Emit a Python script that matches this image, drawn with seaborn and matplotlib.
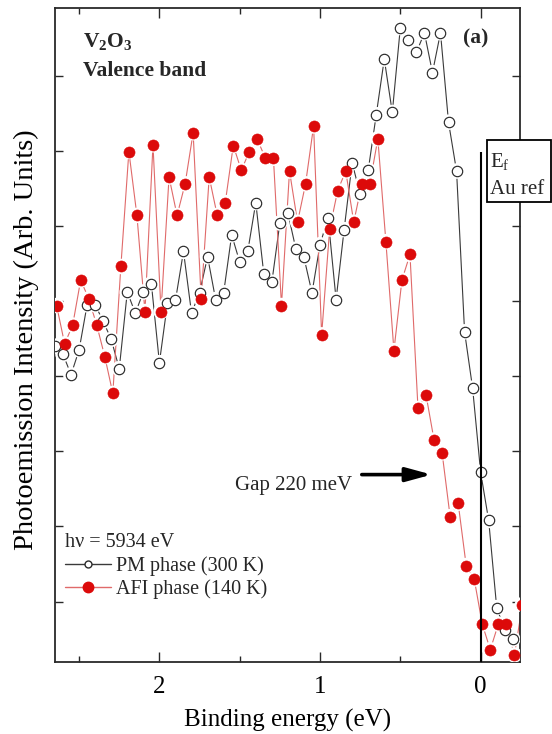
import numpy as np
import pandas as pd
import seaborn as sns
import matplotlib.pyplot as plt
from matplotlib.lines import Line2D
from matplotlib.patches import Rectangle

# Valence-band photoemission of V2O3 (hv = 5934 eV)
pm_energy = [2.65, 2.60, 2.55, 2.50, 2.45, 2.40, 2.35, 2.30, 2.25, 2.20, 2.15, 2.10,
             2.05, 2.00, 1.95, 1.90, 1.85, 1.80, 1.75, 1.70, 1.65, 1.60, 1.55,
             1.50, 1.45, 1.40, 1.35, 1.30, 1.25, 1.20, 1.15, 1.10, 1.05, 1.00,
             0.95, 0.90, 0.85, 0.80, 0.75, 0.70, 0.65, 0.60, 0.55, 0.50, 0.45,
             0.40, 0.35, 0.30, 0.25, 0.20, 0.15, 0.10, 0.05, 0.00, -0.05, -0.10,
             -0.15, -0.20]
pm_intensity = [3.40, 3.29, 3.02, 3.35, 3.95, 3.95, 3.73, 3.49, 3.10, 4.12, 3.84, 4.12,
                4.23, 3.18, 3.97, 4.01, 4.66, 3.84, 4.11, 4.59, 4.02, 4.11, 4.88,
                4.52, 4.66, 5.31, 4.36, 4.25, 5.04, 5.17, 4.69, 4.58, 4.11, 4.75,
                5.11, 4.02, 4.95, 5.84, 5.42, 5.74, 6.48, 7.22, 6.51, 7.64, 7.47,
                7.31, 7.57, 7.04, 7.57, 6.38, 5.73, 3.59, 2.84, 1.72, 1.08, -0.08,
                -0.38, -0.50]

afi_energy = [2.64, 2.59, 2.54, 2.49, 2.44, 2.39, 2.34, 2.29, 2.24, 2.19, 2.14, 2.09,
              2.04, 1.99, 1.94, 1.89, 1.84, 1.79, 1.74, 1.69, 1.64, 1.59, 1.54,
              1.49, 1.44, 1.39, 1.34, 1.29, 1.24, 1.19, 1.14, 1.09, 1.04, 0.99,
              0.94, 0.89, 0.84, 0.79, 0.74, 0.69, 0.64, 0.59, 0.54, 0.49, 0.44,
              0.39, 0.34, 0.29, 0.24, 0.19, 0.14, 0.09, 0.04, -0.01, -0.06, -0.11,
              -0.16, -0.21, -0.26]
afi_intensity = [3.94, 3.43, 3.68, 4.28, 4.03, 3.68, 3.26, 2.77, 4.46, 5.99, 5.14, 3.86,
                 6.08, 3.86, 5.65, 5.14, 5.56, 6.24, 4.03, 5.65, 5.14, 5.31, 6.07,
                 5.74, 5.99, 6.15, 5.90, 5.90, 3.94, 5.73, 5.05, 5.56, 6.33, 3.55,
                 4.96, 5.47, 5.73, 5.05, 5.56, 5.56, 6.16, 4.79, 3.34, 4.28, 4.62,
                 2.57, 2.75, 2.15, 1.98, 1.13, 1.31, 0.48, 0.30, -0.30, -0.64, -0.30,
                 -0.30, -0.71, -0.04]

x_major = [2, 1, 0]
x_minor = [2.5, 1.5, 0.5]
y_ticks = [0, 1, 2, 3, 4, 5, 6, 7]

pm = pd.DataFrame({"energy": pm_energy, "intensity": pm_intensity})
afi = pd.DataFrame({"energy": afi_energy, "intensity": afi_intensity})

sns.set_theme(style="ticks")
plt.rcParams["font.family"] = ["Liberation Serif", "DejaVu Serif"]
plt.rcParams["mathtext.fontset"] = "custom"
plt.rcParams["mathtext.rm"] = "Liberation Serif"
plt.rcParams["mathtext.bf"] = "Liberation Serif:bold"
plt.rcParams["mathtext.it"] = "Liberation Serif:italic"

RED = "#dc0a0a"
RED_LINE = "#e06a6a"
DARK = "#2a2a2a"

fig = plt.figure(figsize=(5.52, 7.34), dpi=100)
ax = fig.add_axes([55 / 552, 1 - 661.7 / 734, 465 / 552, 653.7 / 734])

# connecting lines
sns.lineplot(data=pm, x="energy", y="intensity", sort=False, estimator=None,
             color="#3a3a3a", lw=0.8, ax=ax, zorder=2)
sns.lineplot(data=afi, x="energy", y="intensity", sort=False, estimator=None,
             color=RED_LINE, lw=0.8, ax=ax, zorder=2)

# white halos so the lines stop short of the symbols
for df in (pm, afi):
    sns.scatterplot(data=df, x="energy", y="intensity", s=125, color="white",
                    edgecolor="none", linewidth=0, ax=ax, zorder=3, legend=False)

sns.scatterplot(data=pm, x="energy", y="intensity", s=56, color="white",
                edgecolor=DARK, linewidth=0.85, ax=ax, zorder=4, legend=False)
sns.scatterplot(data=afi, x="energy", y="intensity", s=64, color=RED,
                edgecolor=RED, linewidth=0.4, ax=ax, zorder=5, legend=False)

ax.set_xlim(2.65, -0.245)
ax.set_ylim(-0.8, 7.9)

ax.set_xticks(x_major)
ax.set_xticklabels([str(v) for v in x_major])
ax.set_xticks(x_minor, minor=True)
ax.set_yticks(y_ticks)
ax.set_yticklabels([])

ax.tick_params(axis="x", which="major", direction="in", length=7, width=1.0,
               top=True, bottom=True, labelsize=18, pad=10, colors=DARK)
ax.tick_params(axis="x", which="minor", direction="in", length=4, width=1.0,
               top=True, bottom=True)
ax.tick_params(axis="y", which="major", direction="in", length=5.5, width=1.0,
               left=True, right=True, colors=DARK)
ax.tick_params(axis="x", labelcolor="black")

for sp in ax.spines.values():
    sp.set_linewidth(1.3)
    sp.set_color(DARK)
    sp.set_visible(True)

ax.set_xlabel("Binding energy (eV)", fontsize=18, labelpad=8, color="black")
ax.set_ylabel("Photoemission Intensity (Arb. Units)", fontsize=20.5, color="black")
ax.yaxis.set_label_coords(-0.034, 0.492)

# Fermi level of the Au reference
ax.vlines(0, -0.8, 5.99, color="black", lw=1.5, zorder=6)

# headings
ax.text(0.060, 0.941, r"V$_\mathbf{2}$O$_\mathbf{3}$", transform=ax.transAxes,
        fontsize=15.5, fontweight="bold", va="baseline", ha="left")
ax.text(0.060, 0.896, "Valence band", transform=ax.transAxes,
        fontsize=15.5, fontweight="bold", va="baseline", ha="left")
ax.text(0.877, 0.946, "(a)", transform=ax.transAxes,
        fontsize=15.5, fontweight="bold", va="baseline", ha="left")

# gap annotation
ax.text(0.387, 0.263, "Gap 220 meV", transform=ax.transAxes,
        fontsize=15, va="baseline", ha="left")
ax.annotate("", xy=(0.305, 1.69), xytext=(0.74, 1.69),
            arrowprops=dict(arrowstyle="-|>,head_length=1.1,head_width=0.3",
                            lw=2.6, color="black", mutation_scale=14,
                            shrinkA=0, shrinkB=0))

# E_f / Au ref box, straddling the right spine
fig.add_artist(Rectangle((486.5 / 552, 1 - 201.7 / 734), 64 / 552, 62 / 734,
                         transform=fig.transFigure, facecolor="white",
                         edgecolor="black", lw=1.3, zorder=5))
fig.text(490 / 552, 1 - 166.5 / 734, r"E$_\mathrm{f}$", fontsize=15,
         va="baseline", ha="left", zorder=6)
fig.text(489.5 / 552, 1 - 193.5 / 734, "Au ref", fontsize=15,
         va="baseline", ha="left", zorder=6)

# legend
handles = [
    Line2D([], [], color="#3a3a3a", lw=1.0, marker="o", markersize=5,
           markerfacecolor="white", markeredgecolor=DARK, markeredgewidth=1.0),
    Line2D([], [], color=RED_LINE, lw=1.0, marker="o", markersize=7.5,
           markerfacecolor=RED, markeredgecolor=RED),
]
leg = ax.legend(handles, ["PM phase (300 K)", "AFI phase (140 K)"],
                title="h\u03bd = 5934 eV", alignment="left",
                loc="lower left", bbox_to_anchor=(0.0, 0.08),
                frameon=False, fontsize=14.5, title_fontsize=14.5,
                handlelength=2.3, handletextpad=0.25, labelspacing=0.2,
                borderpad=0.2, borderaxespad=0.3)

fig.savefig("out.png", dpi=100)
